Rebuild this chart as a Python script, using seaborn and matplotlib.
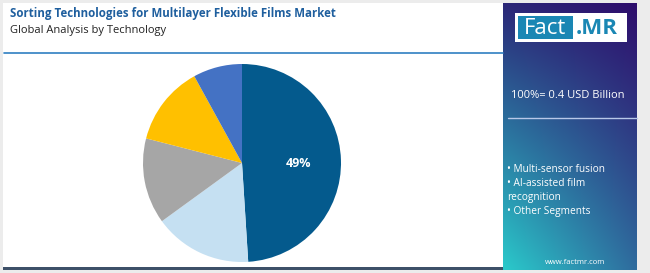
import numpy as np
import matplotlib
matplotlib.use("Agg")
import matplotlib.pyplot as plt
from matplotlib.patches import Rectangle
import seaborn as sns

# data
segments = ["Multi-sensor fusion", "AI-assisted film recognition", "Optical sorting",
            "Hyperspectral imaging", "Other Segments"]
shares = [49, 16, 14, 13, 8]
colors = ["#045a8d", "#c5e0f2", "#a6a6a6", "#ffc000", "#4472c4"]
title = "Sorting Technologies for Multilayer Flexible Films Market"
subtitle = "Global Analysis by Technology"
total_label = "100%= 0.4 USD Billion"
bullets = ["\u2022 Multi-sensor fusion", "\u2022 AI-assisted film", "recognition", "\u2022 Other Segments"]

sns.set_theme(style="white")
plt.rcParams["font.family"] = ["Open Sans", "DejaVu Sans"]

W, H = 650, 273
fig = plt.figure(figsize=(W / 100, H / 100), dpi=100)
fig.patch.set_facecolor("#ececec")

# background canvas in pixel coords
bg = fig.add_axes([0, 0, 1, 1])
bg.axis("off")
bg.add_patch(Rectangle((3, 3), 634, 267, facecolor="white", edgecolor="none"))
bg.plot([4, 503], [53, 53], color="#2f7fc1", lw=1.2)
bg.add_patch(Rectangle((3, 267), 500, 3, facecolor="#3d5068", edgecolor="none"))

# gradient side panel
tl, tr = np.array([44, 40, 120]), np.array([46, 14, 108])
bl, br = np.array([42, 200, 202]), np.array([47, 108, 158])
ny, nx = 60, 30
yy = np.linspace(0, 1, ny)[:, None, None]
xx = np.linspace(0, 1, nx)[None, :, None]
grad = (1 - yy) * ((1 - xx) * tl + xx * tr) + yy * ((1 - xx) * bl + xx * br)
bg.imshow(grad / 255, extent=[503, 637, 270, 3], aspect="auto", zorder=1,
          interpolation="bilinear")
bg.set_xlim(0, W)
bg.set_ylim(H, 0)

bg.text(10, 13, title, fontsize=8.3, fontweight="bold", color="#1f5f9e", va="center")
bg.text(10, 31, subtitle, fontsize=8, color="#222222", va="center")

# logo
bg.add_patch(Rectangle((515, 13), 112, 29, facecolor="white", edgecolor="none", zorder=2))
bg.add_patch(Rectangle((518, 16), 55, 23, facecolor="#1a87b4", edgecolor="none", zorder=3))
bg.text(545, 28, "Fact", fontsize=16, color="white", ha="center", va="center", zorder=4)
bg.text(576, 28, ".MR", fontsize=16, color="#1a87b4", fontweight="bold", va="center", zorder=4)

bg.text(511, 95, total_label, fontsize=8, color="white", va="center", zorder=4)
bg.plot([508, 637], [118, 118], color="#b8c8e8", lw=1, zorder=4)
for i, b in enumerate(bullets):
    bg.text(507, 170 + i * 13.7, b, fontsize=7.3, color="white", va="center", zorder=4)
bg.text(575, 262, "www.factmr.com", fontsize=5.5, color="white", ha="center", va="center", zorder=4)

# pie
ax = fig.add_axes([143 / W, 1 - 262 / H, 198 / W, 198 / H])
wedges, _ = ax.pie(shares, colors=colors, startangle=90, counterclock=False,
                   wedgeprops=dict(linewidth=0))
ax.text(0.57, 0.0, f"{shares[0]}%", color="white", fontsize=9, fontweight="bold",
        ha="center", va="center")
ax.set_xlim(-1, 1)
ax.set_ylim(-1, 1)
ax.set_aspect("equal")

fig.savefig("out.png", dpi=100, facecolor=fig.get_facecolor())
